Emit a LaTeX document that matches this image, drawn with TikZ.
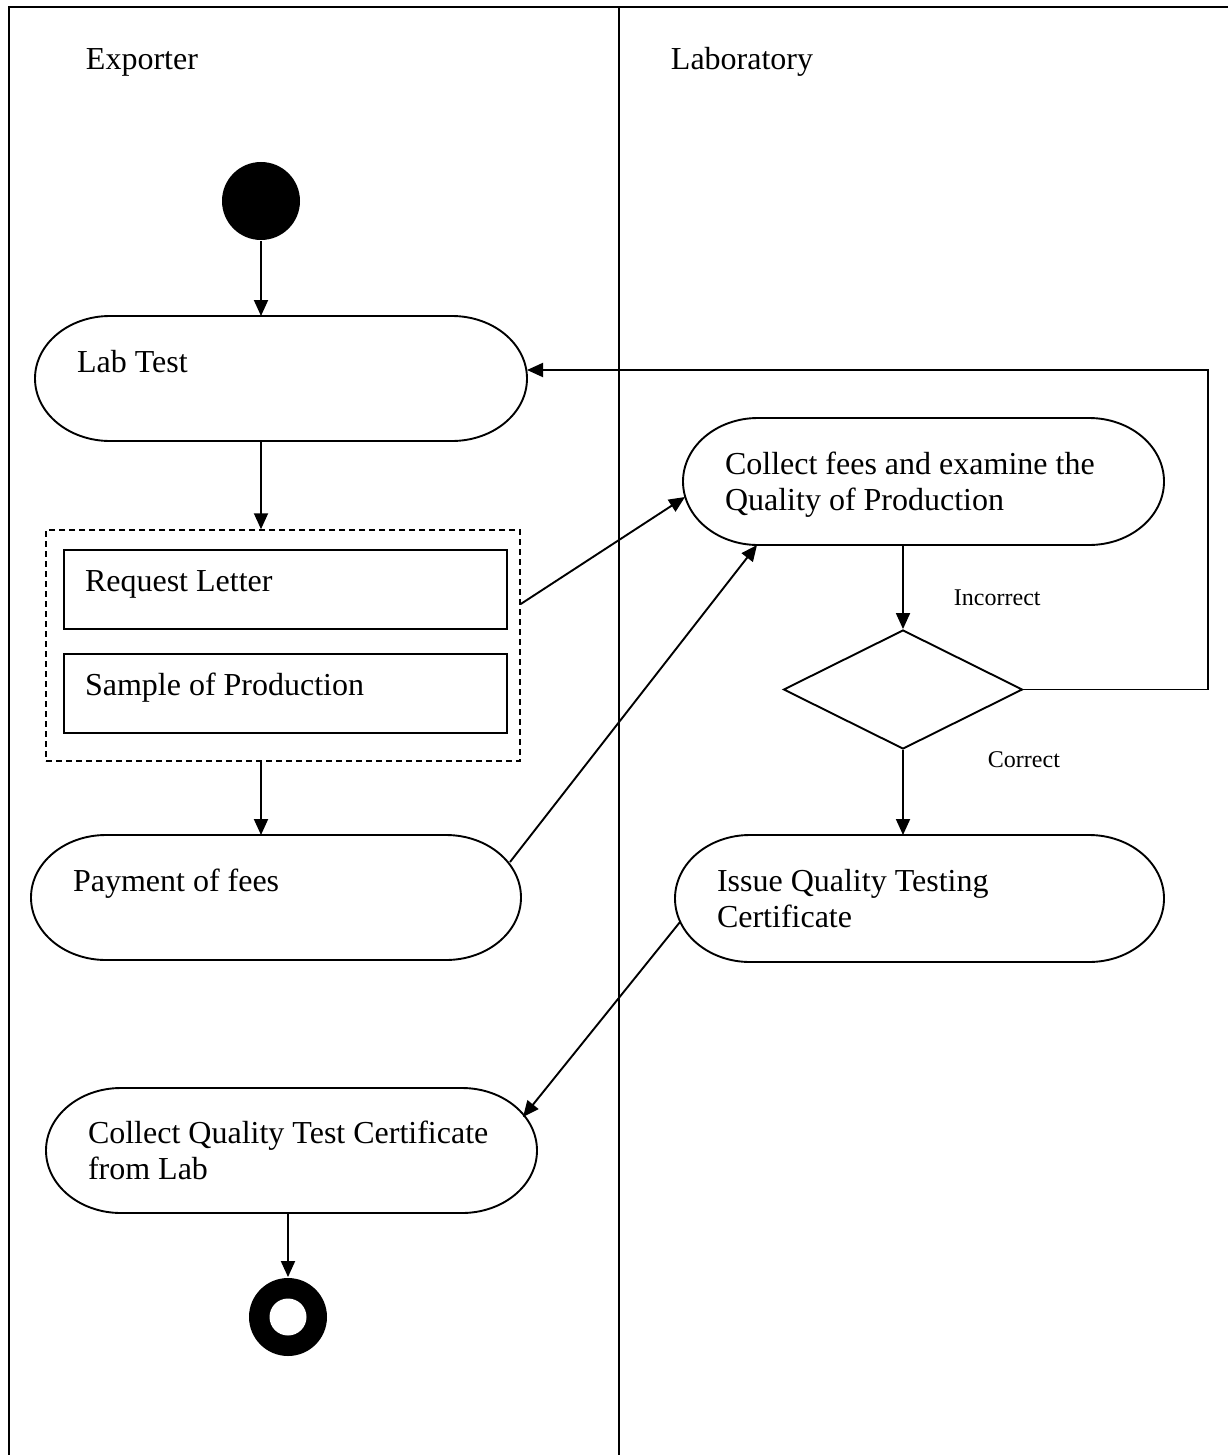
\documentclass[tikz,border=0pt]{standalone}
\usepackage{fontspec}
\setmainfont{Liberation Serif}
\usetikzlibrary{arrows.meta,shapes.geometric,calc}
\newcommand\stadium[2]{\draw ([xshift=75pt]#1.north west) -- ([xshift=-75pt]#1.north east) arc[start angle=90,end angle=-90,x radius=75pt,y radius=#2pt] -- ([xshift=75pt]#1.south west) arc[start angle=270,end angle=90,x radius=75pt,y radius=#2pt] -- cycle;}
\begin{document}
\begin{tikzpicture}[x=1pt,y=-1pt,line width=1.9pt,
  every node/.style={inner sep=0pt},
  big/.style={font=\fontsize{32}{36}\selectfont},
  small/.style={font=\fontsize{24}{28}\selectfont},
  arr/.style={-{Triangle[length=16pt,width=14pt]}},
  act/.style={big, draw=none, outer sep=0pt, inner xsep=42pt, inner ysep=0pt, align=flush left, text height=22pt},
  obj/.style={big, draw, rectangle, minimum width=443pt, minimum height=79pt, inner xsep=21pt, text width=401pt, align=flush left, text height=22pt, text depth=18pt},
  grpbox/.style={draw, dash pattern=on 6pt off 4pt, line width=1.5pt, minimum width=474pt, minimum height=231pt},
  lane/.style={line width=1.7pt},
  lanelabel/.style={big, anchor=base west},
  guard/.style={small, anchor=base west}
]
\useasboundingbox (0,0) rectangle (1228,1455);
% swimlanes
\draw[lane] (9,1455) -- (9,7) -- (1228,7);
\draw[lane] (619,7) -- (619,1455);
\node[lanelabel] (exp) at (85,70) {Exporter};
\node[lanelabel] (labo) at (670,70) {Laboratory};
% nodes
\node[circle, fill, minimum size=78pt] (start) at (261,201) {};
\node[act, minimum width=492pt, minimum height=125pt, text width=408pt, text depth=35pt] (lab) at (281,378.5) {Lab Test};
\node[grpbox] (grp) at (283,645.5) {};
\node[obj] (req) at (285.5,589.5) {Request Letter};
\node[obj] (smp) at (285.5,693.5) {Sample of Production};
\node[act, minimum width=490pt, minimum height=125pt, text width=406pt, text depth=35pt] (pay) at (276,897.5) {Payment of fees};
\node[act, minimum width=481pt, minimum height=127pt, text width=397pt, text depth=36pt] (coll) at (923.5,481.5) {Collect fees and examine the\\Quality of Production};
\node[diamond, draw, minimum width=239pt, minimum height=119pt] (dia) at (903,689.5) {};
\node[act, minimum width=489pt, minimum height=127pt, text width=405pt, text depth=36pt] (iss) at (919.5,898.5) {Issue Quality Testing\\Certificate};
\node[act, minimum width=491pt, minimum height=125pt, text width=407pt, text depth=36pt] (cq) at (291.5,1150.5) {Collect Quality Test Certificate\\from Lab};
\node[circle, fill, minimum size=78pt] (fin) at (288,1317) {};
\node[circle, fill=white, minimum size=37pt] (finin) at (fin) {};
\stadium{lab}{62.5}
\stadium{pay}{62.5}
\stadium{coll}{63.5}
\stadium{iss}{63.5}
\stadium{cq}{62.5}
% guards
\node[guard] (inc) at (953,605) {Incorrect};
\node[guard] (cor) at (987,767) {Correct};
% connectors
\draw[arr] (start.south) -- (start |- lab.north);
\draw[arr] (start |- lab.south) -- (start |- grp.north);
\draw[arr] (start |- grp.south) -- (start |- pay.north);
\draw[arr] ([yshift=41.5]grp.east) -- ([shift={(2,15.5)}]coll.west);
\draw[arr] ([shift={(-11,-35.5)}]pay.east) -- ([xshift=74]coll.south west);
\draw[arr] (dia |- coll.south) -- (dia.north);
\draw[arr] (dia.south) -- (dia |- iss.north);
\coordinate (loop) at (1208,370);
\draw[arr] (dia.east) -- (dia.east -| loop) -- (loop) -- ([yshift=8.5]lab.east);
\draw[arr] ([shift={(5,23.5)}]iss.west) -- ([shift={(-14,-33.5)}]cq.east);
\draw[arr] (cq.south -| fin.north) -- (fin.north);
\end{tikzpicture}
\end{document}
